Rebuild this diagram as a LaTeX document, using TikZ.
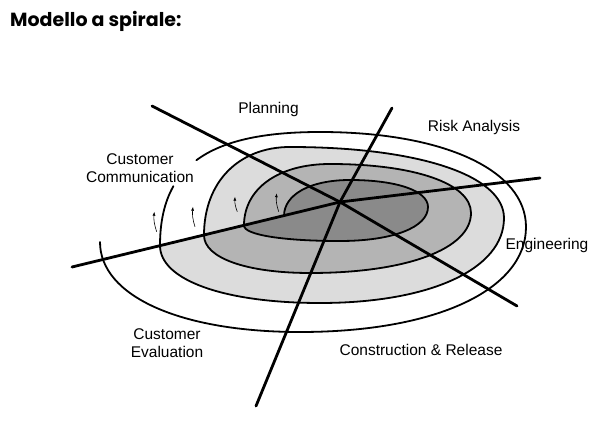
\documentclass[tikz,border=0pt]{standalone}
\usepackage{fontspec}
\setmainfont{Liberation Sans}
\newfontfamily\titlefont{Poppins}
\usetikzlibrary{arrows.meta}
\definecolor{darkfill}{HTML}{8A8A8A}
\definecolor{medfill}{HTML}{B4B4B4}
\definecolor{lightfill}{HTML}{DCDCDC}
\tikzset{
  ray/.style={line width=2.8pt, line cap=round},
  spiralline/.style={line width=1.8pt, line cap=round, line join=round},
  flow/.style={line width=0.6pt, -{Latex[length=4pt,width=3pt]}},
  lbl/.style={font=\fontsize{15.5}{18}\selectfont, inner sep=0pt, align=center},
  titlelbl/.style={font=\titlefont\bfseries\fontsize{19}{22}\selectfont, inner sep=0pt},
}
\begin{document}
\begin{tikzpicture}[x=1pt, y=-1pt]
\useasboundingbox (0,0) rectangle (611,435);
% key points
\coordinate (c) at (340,202);
\coordinate (eL) at (72,267);
\coordinate (eR) at (540,178);
\coordinate (eUL) at (152,106);
\coordinate (eLR) at (517,306);
\coordinate (eT) at (392,108);
\coordinate (eB) at (256,406);
% spiral points
\coordinate (X1) at (284,216);
\coordinate (T1) at (350,180);
\coordinate (R1) at (428,207);
\coordinate (B1) at (340,241);
\coordinate (X2) at (244,225.5);
\coordinate (T2) at (330,164);
\coordinate (R2) at (471,213);
\coordinate (B2) at (310,273);
\coordinate (X3) at (204,235.3);
\coordinate (T3) at (290,147);
\coordinate (R3) at (504,218);
\coordinate (B3) at (320,303);
\coordinate (X4) at (160,245.6);
\coordinate (G1) at (173.4,186.2);
\coordinate (G2) at (196.4,160.2);
\coordinate (T4) at (320,132);
\coordinate (R4) at (526,227);
\coordinate (B4) at (300,332);
\coordinate (E5) at (100,242);
% fills
\fill[lightfill] (X3) .. controls +(0,-53) and +(-51.6,0) .. (T3)
  .. controls +(128.4,0) and +(0,-42.6) .. (R3)
  .. controls +(0,51) and +(110.4,0) .. (B3)
  .. controls +(-96,0) and +(0,34.4) .. (X4) -- cycle;
\fill[medfill] (X2) .. controls +(0,-36.9) and +(-51.6,0) .. (T2)
  .. controls +(84.6,0) and +(0,-29.4) .. (R2)
  .. controls +(0,36) and +(96.6,0) .. (B2)
  .. controls +(-63.6,0) and +(0,22.6) .. (X3) -- cycle;
\fill[darkfill] (X1) .. controls +(0,-21.6) and +(-39.6,0) .. (T1)
  .. controls +(46.8,0) and +(0,-16.2) .. (R1)
  .. controls +(0,20.4) and +(52.8,0) .. (B1)
  .. controls +(-57.6,0) and +(0,9.3) .. (X2) -- cycle;
% spiral strokes
\draw[spiralline] (X1) .. controls +(0,-21.6) and +(-39.6,0) .. (T1)
  .. controls +(46.8,0) and +(0,-16.2) .. (R1)
  .. controls +(0,20.4) and +(52.8,0) .. (B1)
  .. controls +(-57.6,0) and +(0,9.3) .. (X2)
  .. controls +(0,-36.9) and +(-51.6,0) .. (T2)
  .. controls +(84.6,0) and +(0,-29.4) .. (R2)
  .. controls +(0,36) and +(96.6,0) .. (B2)
  .. controls +(-63.6,0) and +(0,22.6) .. (X3)
  .. controls +(0,-53) and +(-51.6,0) .. (T3)
  .. controls +(128.4,0) and +(0,-42.6) .. (R3)
  .. controls +(0,51) and +(110.4,0) .. (B3)
  .. controls +(-96,0) and +(0,34.4) .. (X4)
  .. controls (160,222.06) and (164.3,202.2) .. (G1);
\draw[spiralline] (G2) .. controls (222.4,140.9) and (262.9,132) .. (T4)
  .. controls +(123.6,0) and +(0,-57) .. (R4)
  .. controls +(0,63) and +(135.6,0) .. (B4)
  .. controls +(-120,0) and +(0,54) .. (E5);
% rays
\draw[ray] (c) -- (eL);
\draw[ray] (c) -- (eR);
\draw[ray] (c) -- (eUL);
\draw[ray] (c) -- (eLR);
\draw[ray] (c) -- (eT);
\draw[ray] (c) -- (eB);
% small flow arrows
\coordinate (a1s) at (156.7,231.7); \coordinate (a1e) at (154.3,211.7);
\coordinate (a2s) at (195,226.7);   \coordinate (a2e) at (193,206.7);
\coordinate (a3s) at (237.3,211.7); \coordinate (a3e) at (235,196.7);
\coordinate (a4s) at (278.7,211.7); \coordinate (a4e) at (276.7,193.3);
\draw[flow] (a1s) to[bend left=12] (a1e);
\draw[flow] (a2s) to[bend left=12] (a2e);
\draw[flow] (a3s) to[bend left=12] (a3e);
\draw[flow] (a4s) to[bend left=12] (a4e);
% labels
\node[titlelbl, anchor=base west] (title) at (10,27) {Modello a spirale:};
\node[lbl, anchor=base] (plan) at (268.5,113.3) {Planning};
\node[lbl, anchor=base] (risk) at (474,132) {Risk Analysis};
\node[lbl, anchor=north] (comm) at (140,153.7) {Customer\\Communication};
\node[lbl, anchor=base] (eng) at (547,250) {Engineering};
\node[lbl, anchor=north] (eval) at (167,328.7) {Customer\\Evaluation};
\node[lbl, anchor=base] (cons) at (421,356) {Construction \& Release};
\end{tikzpicture}
\end{document}
